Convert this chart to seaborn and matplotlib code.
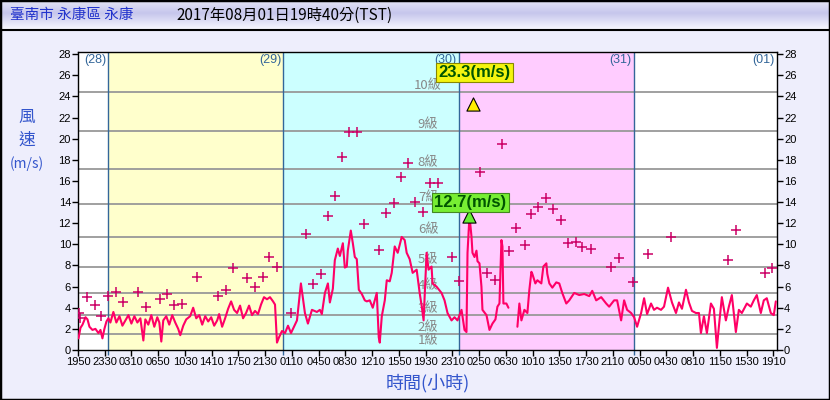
import numpy as np
import pandas as pd
import matplotlib
matplotlib.use("Agg")
import matplotlib.pyplot as plt
from matplotlib.colors import LinearSegmentedColormap
from matplotlib.patches import Rectangle
from matplotlib.lines import Line2D
import seaborn as sns

# time axis: hours since 07/28 19:50 (TST)
x_max = 95.83
tick_labels = ["1950", "2330", "0310", "0650", "1030", "1410", "1750", "2130", "0110",
               "0450", "0830", "1210", "1550", "1930", "2310", "0250", "0630", "1010",
               "1350", "1730", "2110", "0050", "0430", "0810", "1150", "1530", "1910"]
tick_step = 220 / 60  # 3h40m

day_edges = [0, 4.167, 28.167, 52.167, 76.167, 95.83]
day_colors = ["white", "#FFFFCC", "#CCFFFF", "#FFCCFF", "white"]
day_labels = ["(28)", "(29)", "(30)", "(31)", "(01)"]

# Beaufort scale
level_names = ["1級", "2級", "3級", "4級", "5級", "6級", "7級", "8級", "9級", "10級"]
level_lower = [0.3, 1.6, 3.4, 5.5, 8.0, 10.8, 13.9, 17.2, 20.8, 24.5]
level_upper = [1.5, 3.3, 5.4, 7.9, 10.7, 13.8, 17.1, 20.7, 24.4]

# 10 minute mean wind (m/s)
wind_t = [0.07, 0.34, 0.62, 1.03, 1.30, 1.57, 1.98, 2.39, 2.80, 3.08, 3.35, 3.62, 3.90,
          4.17, 4.44, 4.72, 4.85, 5.26, 5.68, 6.09, 6.50, 6.91, 7.32, 7.73, 8.14, 8.55,
          8.96, 9.23, 9.64, 10.05, 10.46, 10.87, 11.15, 11.42, 11.69, 12.10, 12.51, 12.92,
          13.33, 13.74, 14.02, 14.43, 14.84, 15.38, 15.79, 16.21, 16.62, 17.03, 17.44,
          17.85, 18.26, 18.67, 19.08, 19.35, 19.76, 20.17, 20.58, 20.99, 21.40, 21.81,
          22.22, 22.63, 23.04, 23.45, 23.86, 24.27, 24.68, 25.09, 25.50, 25.91, 26.32,
          26.74, 27.01, 27.28, 27.56, 27.97, 28.38, 28.79, 29.20, 29.61, 30.02, 30.56,
          31.11, 31.52, 32.07, 32.75, 33.16, 33.43, 33.85, 34.26, 34.53, 34.94, 35.21,
          35.62, 35.90, 36.31, 36.58, 36.85, 36.99, 37.40, 37.68, 37.95, 38.22, 38.50,
          38.91, 39.32, 39.59, 40.00, 40.41, 40.96, 41.23, 41.37, 41.65, 42.06, 42.33,
          42.74, 43.01, 43.42, 43.83, 44.38, 44.79, 45.06, 45.47, 45.88, 46.43, 46.84,
          47.11, 47.38, 47.79, 48.06, 48.47, 48.61, 49.15, 49.84, 50.25, 50.66, 51.21,
          51.62, 52.03, 52.58, 52.99, 53.26, 53.40, 53.67, 53.95, 54.08, 54.36, 54.63,
          54.77, 55.04, 55.31, 55.45, 56.00, 56.41, 56.82, 57.23, 57.50, 57.78, 58.05,
          58.19, 58.32, 58.73, 59.01,
          60.24, 60.51, 60.79, 61.20, 61.61, 61.88, 62.16, 62.29, 62.70, 62.98, 63.52,
          63.80, 64.21, 64.34, 64.62, 65.03, 65.57, 65.98, 66.39, 66.94, 67.35, 68.03,
          68.72, 69.40, 70.09, 70.50, 71.04, 71.73, 72.41, 72.82, 73.50, 73.91, 74.46,
          74.87, 75.28, 75.83, 76.24, 76.65, 77.20, 77.61, 78.02, 78.56, 78.97, 79.38,
          79.93, 80.34, 80.89, 81.43, 81.98, 82.39, 82.80, 83.35, 83.76, 84.17, 84.72,
          85.13, 85.40, 85.81, 86.22, 86.77, 87.18, 87.59, 87.86, 88.27, 88.82, 89.23,
          89.64, 90.19, 90.60, 91.01, 91.70, 92.24, 92.65, 93.06, 93.61, 94.02, 94.43,
          94.98, 95.39, 95.67]
wind_v = [1.1, 2.1, 2.4, 3.1, 2.9, 2.2, 1.9, 2.0, 1.6, 1.9, 1.1, 2.0, 2.7,
          3.0, 2.6, 3.3, 3.6, 2.6, 3.2, 2.3, 2.8, 3.3, 2.5, 3.2, 2.6, 3.0,
          0.9, 2.9, 2.4, 3.3, 2.2, 3.1, 2.6, 0.8, 2.8, 3.2, 2.4, 3.3,
          2.6, 2.0, 1.4, 2.3, 2.9, 3.2, 4.0, 3.0, 3.3, 2.4, 3.2,
          2.7, 3.1, 2.3, 2.8, 3.4, 2.2, 3.0, 3.9, 4.6, 3.8, 3.5,
          4.2, 3.0, 3.5, 4.2, 3.3, 3.7, 3.4, 4.3, 5.0, 4.8, 5.0,
          4.6, 4.3, 0.7, 1.2, 1.8, 1.6, 2.3, 1.6, 2.2, 2.8, 6.3,
          3.5, 2.5, 3.8, 3.6, 3.8, 3.4, 5.4, 6.3, 4.5, 5.8, 8.5,
          9.6, 8.9, 10.1, 7.8, 7.9, 9.4, 11.3, 10.1, 8.8, 8.6, 5.7,
          5.3, 4.7, 4.6, 4.7, 4.0, 5.4, 1.2, 0.7, 3.2, 4.7, 6.6,
          6.5, 7.3, 9.8, 9.2, 10.7, 10.4, 9.2, 8.6, 7.3, 7.6, 5.4,
          4.2, 2.8, 9.2, 7.6, 7.9, 6.3, 6.0, 5.4, 4.7, 3.5, 2.8,
          3.1, 2.8, 3.8, 1.9, 1.7, 9.2, 12.7, 10.7, 9.2, 8.8, 9.4,
          8.4, 8.2, 6.0, 3.8, 3.3, 1.9, 2.5, 2.9, 4.1, 4.4, 10.4,
          9.8, 4.4, 4.4, 4.0,
          2.2, 4.4, 2.8, 3.8, 3.5, 5.7, 7.4, 7.2, 6.3, 6.6, 6.3,
          7.9, 8.2, 7.2, 6.3, 5.9, 6.4, 6.3, 5.4, 4.4, 4.7, 5.4,
          5.2, 5.3, 5.1, 5.6, 4.7, 5.0, 4.4, 4.1, 4.7, 4.7, 2.8,
          4.7, 3.8, 3.5, 3.1, 2.2, 3.5, 4.9, 3.4, 4.4, 3.8, 4.0,
          3.8, 4.1, 5.9, 4.5, 3.5, 4.5, 3.9, 5.7, 4.5, 3.7, 3.5,
          3.5, 1.6, 3.2, 1.6, 4.4, 3.9, 0.2, 2.2, 5.0, 2.8, 4.1,
          5.2, 1.7, 3.8, 3.5, 4.4, 4.1, 4.7, 5.2, 3.5, 4.7, 4.9,
          3.5, 3.3, 4.6]

# gusts (m/s)
gust_t = [0.07, 0.34, 1.30, 2.39, 3.21, 4.17, 5.26, 6.22, 8.27, 9.37, 11.28, 12.24,
          13.20, 14.29, 16.34, 19.21, 20.31, 21.26, 23.18, 24.27, 25.36, 26.19, 27.28,
          29.20, 31.24, 32.20, 33.30, 34.26, 35.21, 36.17, 37.13, 38.22, 39.18, 41.23,
          42.19, 43.28, 44.24, 45.20, 46.15, 47.25, 48.20, 49.30, 51.21, 52.17, 55.18,
          56.14, 57.23, 58.19, 59.14, 60.10, 61.33, 62.16, 63.11, 64.21, 65.16, 66.26,
          67.21, 68.31, 69.13, 70.36, 73.09, 74.18, 76.10, 78.15, 81.29, 89.09, 90.19,
          94.15, 95.11]
gust_v = [3.5, 3.0, 5.0, 4.3, 3.2, 5.1, 5.5, 4.5, 5.5, 4.1, 4.8, 5.3,
          4.3, 4.4, 6.9, 5.1, 5.7, 7.8, 6.8, 6.0, 6.9, 8.8, 7.9,
          3.5, 11.0, 6.2, 7.2, 12.7, 14.6, 18.3, 20.6, 20.6, 11.9, 9.5,
          13.0, 13.9, 16.4, 17.7, 14.0, 13.1, 15.8, 15.8, 8.8, 6.5, 16.8,
          7.3, 6.6, 19.5, 9.4, 11.5, 9.9, 12.9, 13.5, 14.4, 13.3, 12.3,
          10.1, 10.2, 9.7, 9.6, 7.9, 8.7, 6.4, 9.1, 10.7, 8.5, 11.4,
          7.3, 7.8]

max_gust_t, max_gust = 54.22, 23.3
max_wind_t, max_wind = 53.67, 12.7

sns.set_style("white")
plt.rcParams['font.family'] = ['Liberation Sans', 'Noto Sans CJK TC']
cjk = ['Noto Sans CJK TC', 'DejaVu Sans']

fig = plt.figure(figsize=(8.3, 4.0), dpi=100, facecolor="#EEEEFC")

# title bar
tax = fig.add_axes([0, 1 - 29 / 400, 1, 29 / 400])
grad_cmap = LinearSegmentedColormap.from_list(
    "bar", [(0, "#E6E6F6"), (0.45, "#C6C6EC"), (1, "#F6F6FE")])
tax.imshow(np.linspace(0, 1, 50).reshape(-1, 1), aspect="auto", cmap=grad_cmap,
           extent=[0, 1, 0, 1])
tax.axis("off")
fig.add_artist(Line2D([0, 1], [1 - 29.5 / 400] * 2, color="black", lw=1.5,
                      transform=fig.transFigure))
fig.text(10 / 830, 1 - 15 / 400, "臺南市 永康區 永康", color="#2233CC",
         fontsize=10.5, va="center", ha="left", family=cjk)
fig.text(176 / 830, 1 - 15 / 400, "2017年08月01日19時40分(TST)", color="black",
         fontsize=11, va="center", ha="left", family=cjk)

ax = fig.add_axes([78 / 830, 50 / 400, 699 / 830, 298 / 400])
ax.set_xlim(0, x_max)
ax.set_ylim(0, 28.2)

# day backgrounds and separators
for i in range(len(day_labels)):
    ax.axvspan(day_edges[i], day_edges[i + 1], color=day_colors[i], lw=0, zorder=0)
    ax.text(day_edges[i + 1] - 0.3, 28.0, day_labels[i], color="#336699",
            fontsize=9, ha="right", va="top", zorder=3)
ax.vlines(day_edges[1:-1], -0.5, 28.2, color="#336699", lw=1, zorder=2, clip_on=False)

# Beaufort levels
for v in level_upper:
    ax.axhline(v, color="#999999", lw=1.3, zorder=1)
for name, lo in zip(level_names, level_lower):
    ax.text(48.0, lo + 0.55, name, color="#888888", fontsize=9.5, ha="center",
            va="center", family=cjk, zorder=2)

# wind line
df = pd.DataFrame({"t": wind_t, "v": wind_v})
df["seg"] = (df["t"].diff() > 1.0).cumsum()
sns.lineplot(data=df, x="t", y="v", units="seg", estimator=None, sort=False,
             color="#FF0066", lw=1.5, ax=ax, zorder=4)

# gusts
sns.scatterplot(x=gust_t, y=gust_v, marker="+", s=55, color="#CC0066",
                linewidth=1.1, ax=ax, zorder=5)

# maxima
sns.scatterplot(x=[max_gust_t], y=[max_gust], marker="^", s=90, color="#FFEE00",
                edgecolor="black", linewidth=0.8, ax=ax, zorder=6)
sns.scatterplot(x=[max_wind_t], y=[max_wind], marker="^", s=90, color="#66EE33",
                edgecolor="black", linewidth=0.8, ax=ax, zorder=6)
ax.annotate(f"{max_gust}(m/s)", (max_gust_t, max_gust), xytext=(1, 31),
            textcoords="offset pixels", ha="center", va="center", fontsize=12,
            fontweight="bold", color="#005500", zorder=7,
            bbox=dict(boxstyle="square,pad=0.12", fc="#F4F410", ec="#888800", lw=0.8))
ax.annotate(f"{max_wind}(m/s)", (max_wind_t, max_wind), xytext=(1, 13),
            textcoords="offset pixels", ha="center", va="center", fontsize=12,
            fontweight="bold", color="#005500", zorder=7,
            bbox=dict(boxstyle="square,pad=0.12", fc="#77EE33", ec="#448822", lw=0.8))

# axes
ax.set_xticks(np.arange(len(tick_labels)) * tick_step)
ax.set_xticklabels(tick_labels)
ax.set_yticks(range(0, 29, 2))
ax.tick_params(axis="both", direction="out", length=4, width=1, labelsize=8,
               colors="black", left=True, bottom=True, right=True, labelright=True,
               pad=1)
ax.set_xlabel("")
ax.set_ylabel("")
for s in ax.spines.values():
    s.set_color("black")
    s.set_linewidth(1)
ax.grid(False)

# axis titles
fig.text(27 / 830, 1 - 117 / 400, "風", color="#3355CC", fontsize=12,
         ha="center", va="center", family=cjk)
fig.text(27 / 830, 1 - 140 / 400, "速", color="#3355CC", fontsize=12,
         ha="center", va="center", family=cjk)
fig.text(27 / 830, 1 - 164 / 400, "(m/s)", color="#3355CC", fontsize=10,
         ha="center", va="center", family=cjk)
fig.text(428 / 830, 1 - 383 / 400, "時間(小時)", color="#3355CC", fontsize=13,
         ha="center", va="center", family=cjk)

fig.add_artist(Rectangle((0, 0), 1, 1, transform=fig.transFigure, fill=False,
                         ec="black", lw=2.5))

fig.savefig("out.png", dpi=100, facecolor=fig.get_facecolor())
